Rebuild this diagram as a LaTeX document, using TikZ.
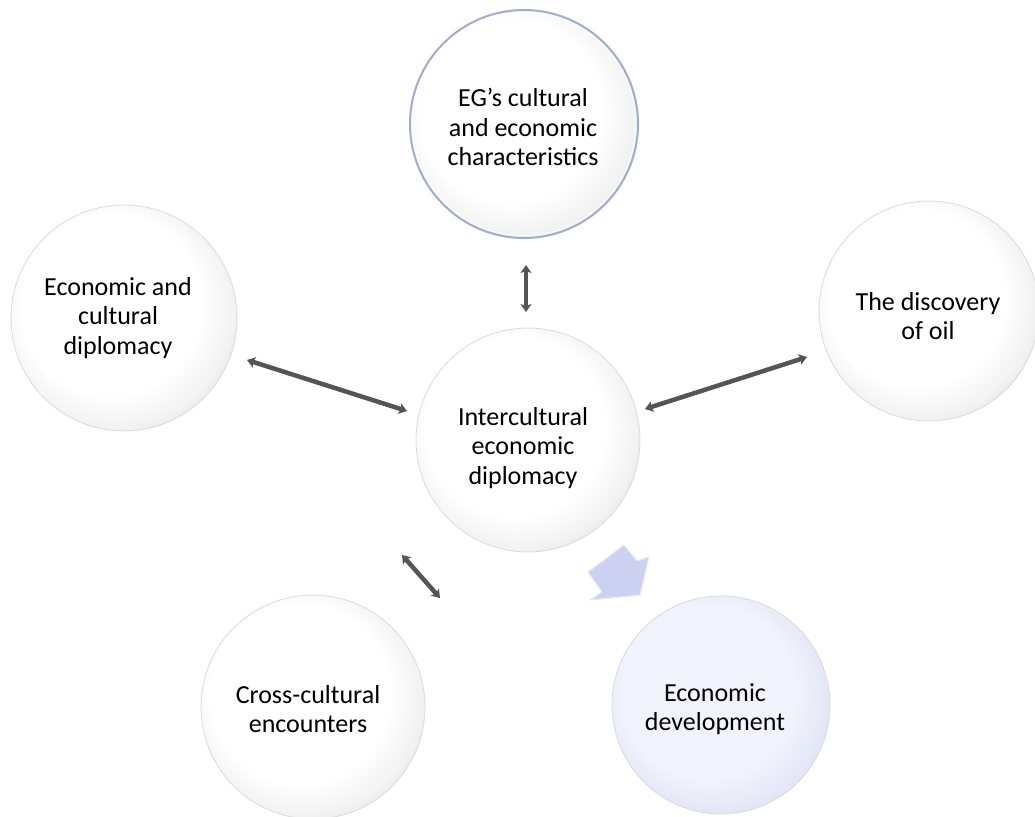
\documentclass[tikz,border=0pt]{standalone}
\usepackage{fontspec}
\setmainfont{Carlito}
\usetikzlibrary{arrows.meta}

\definecolor{lavbody}{RGB}{241,243,253}
\definecolor{lavedge}{RGB}{228,231,246}
\definecolor{ringblue}{RGB}{162,173,205}
\definecolor{linkgray}{RGB}{85,85,85}
\definecolor{arrowfill}{RGB}{204,209,242}
\definecolor{arrowedge}{RGB}{230,233,250}

% soft bubble: white centre, grey rim that is heavier towards the lower right
\pgfdeclareradialshading{bubble}{\pgfpoint{-7bp}{7bp}}{%
  color(0bp)=(white); color(20bp)=(white); color(26bp)=(black!5);
  color(31bp)=(black!16); color(35bp)=(black!26)}
% same bubble with a pale lavender body
\pgfdeclareradialshading{bubblelav}{\pgfpoint{-7bp}{7bp}}{%
  color(0bp)=(lavbody); color(20bp)=(lavbody); color(26bp)=(lavedge);
  color(31bp)=(black!14); color(35bp)=(black!24)}

\tikzset{
  bubblenode/.style={circle, inner sep=0pt, minimum size=#1, shading=bubble,
    draw=black!14, line width=0.8pt},
  caption/.style={align=center, inner sep=0pt,
    font=\fontsize{26}{29.5}\selectfont},
  link/.style={draw=linkgray, line width=4.5pt,
    {Stealth[length=8pt,width=11pt,inset=2pt]}-{Stealth[length=8pt,width=11pt,inset=2pt]}},
}

\begin{document}
\begin{tikzpicture}[x=1pt,y=-1pt]
\useasboundingbox (0,0) rectangle (1035,816);

% circles
\node[bubblenode=228pt, draw=ringblue, line width=2pt] (top) at (524,124) {};
\draw[white, line width=0.8pt] (top.center) circle (111.5pt);
\node[bubblenode=226pt] (left) at (124,318) {};
\node[bubblenode=220pt] (right) at (929,311) {};
\node[bubblenode=224pt] (mid) at (528,440) {};
\node[bubblenode=224pt] (bl) at (313,707) {};
\node[bubblenode=218pt, shading=bubblelav] (br) at (721,705) {};

% captions
\node[caption] (topT) at (523,127) {EG’s cultural\\and economic\\characteristics};
\node[caption] (leftT) at (118,318) {Economic and\\cultural\\diplomacy};
\node[caption] (rightT) at (928,316) {The discovery\\of oil};
\node[caption] (midT) at (523,448) {Intercultural\\economic\\diplomacy};
\node[caption] (blT) at (308,709) {Cross-cultural\\encounters};
\node[caption] (brT) at (715,709) {Economic\\development};

% two-headed links
\coordinate (l1a) at (526,265); \coordinate (l1b) at (526,312);
\coordinate (l2a) at (247,360); \coordinate (l2b) at (407,411);
\coordinate (l3a) at (645,409); \coordinate (l3b) at (807,357);
\coordinate (l4a) at (402,555); \coordinate (l4b) at (440,598);
\draw[link] (l1a) -- (l1b);
\draw[link] (l2a) -- (l2b);
\draw[link] (l3a) -- (l3b);
\draw[link] (l4a) -- (l4b);

% block arrow towards economic development
\fill[arrowfill, draw=arrowedge, line width=1pt, line join=round]
  (624,545) -- (637,561) -- (649,557) -- (640,595) -- (590,600)
  -- (602,592) -- (588,572) -- cycle;
\end{tikzpicture}
\end{document}
